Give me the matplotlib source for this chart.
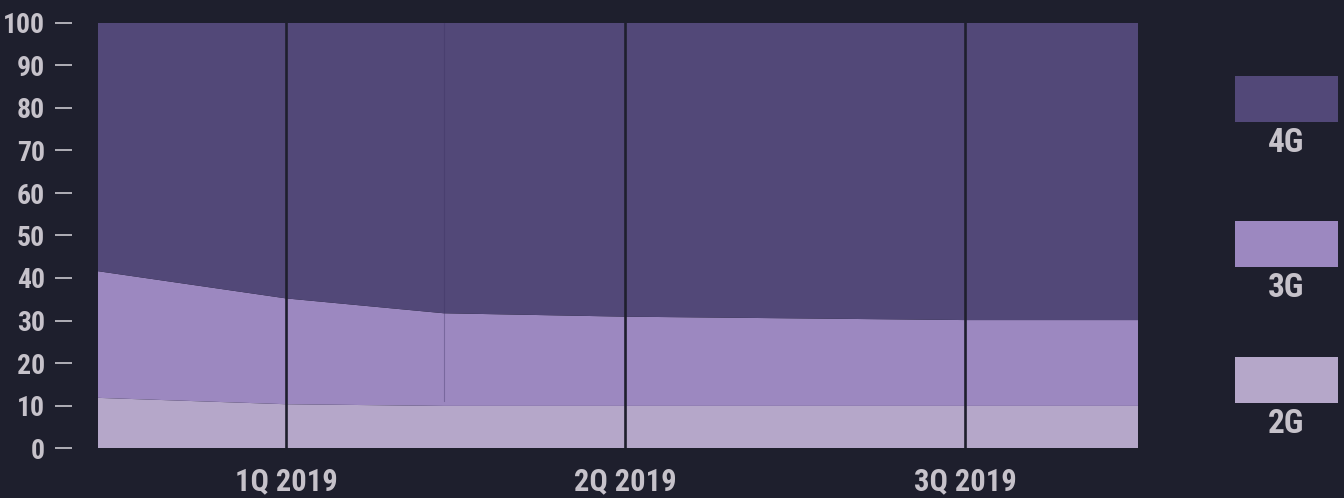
import matplotlib.pyplot as plt
from matplotlib.patches import Rectangle

# quarter positions (1 = 1Q 2019, 2 = 2Q 2019, 3 = 3Q 2019)
x = [0.446, 1.0, 1.465, 2.0, 3.0, 3.51]
share_2g = [11.8, 10.3, 9.9, 9.9, 9.9, 9.9]
share_3g = [29.8, 24.9, 21.8, 21.0, 20.2, 20.2]
share_4g = [100 - a - b for a, b in zip(share_2g, share_3g)]

quarters = [1, 2, 3]
quarter_labels = ['1Q 2019', '2Q 2019', '3Q 2019']
series_names = ['2G', '3G', '4G']

BG = '#1e1f2d'
TXT = '#c6c2ca'
colors = ['#b5a7c9', '#9c88c0', '#524878']
FONT = ['Roboto Condensed', 'Archivo Narrow', 'Barlow Condensed', 'DejaVu Sans']

fig = plt.figure(figsize=(13.44, 4.98), dpi=100, facecolor=BG)
ax = fig.add_axes([98/1344, 50/498, 1040/1344, 425/498])
ax.set_facecolor(BG)

ax.stackplot(x, share_2g, share_3g, share_4g, colors=colors, linewidth=0, antialiased=True)

# thin seam at the kink point
ax.plot([x[2], x[2]], [11.0, 100], color='#3a2f60', alpha=0.35, lw=0.8)

for q in quarters:
    ax.axvline(q, color=BG, lw=1.9)

ax.set_xlim(x[0], x[-1])
ax.set_ylim(0, 100)
ax.set_yticks(range(0, 101, 10))
ax.set_xticks(quarters)
ax.set_xticklabels(quarter_labels)

for s in ax.spines.values():
    s.set_visible(False)
ax.spines['left'].set_position(('outward', 18.7))

ax.tick_params(axis='y', colors='#d8d6dc', length=12.5, width=1.1, pad=7, labelcolor=TXT)
ax.tick_params(axis='x', length=0, pad=13, labelcolor=TXT)
for lab in ax.get_yticklabels():
    lab.set_fontfamily(FONT)
    lab.set_fontweight('bold')
    lab.set_fontsize(20)
for lab in ax.get_xticklabels():
    lab.set_fontfamily(FONT)
    lab.set_fontweight('bold')
    lab.set_fontsize(22)

# legend on the right, top to bottom: 4G, 3G, 2G
leg_tops = [76, 221, 357]
for name, col, top in zip(series_names[::-1], colors[::-1], leg_tops):
    fig.patches.append(Rectangle((1235/1344, 1 - (top + 46)/498), 103/1344, 46/498,
                                 transform=fig.transFigure, facecolor=col, edgecolor='none'))
    fig.text(1286/1344, 1 - (top + 67)/498, name, ha='center', va='center',
             color=TXT, fontsize=24, fontweight='bold', family=FONT)

fig.savefig('out.png', dpi=100, facecolor=BG)
